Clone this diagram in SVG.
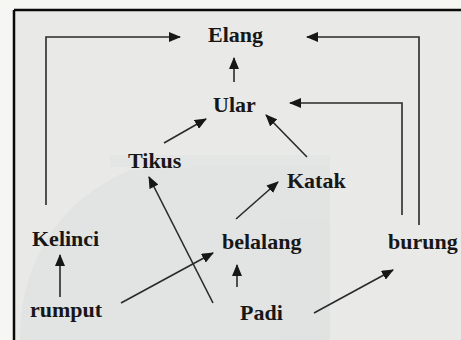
<svg xmlns="http://www.w3.org/2000/svg" width="461" height="340" viewBox="0 0 461 340">
<style>
.lbl{font-family:"Liberation Serif","Times New Roman",serif;font-weight:bold;font-size:22px;fill:#171717}
.con{fill:none;stroke:#2a2a2a;stroke-width:1.6}
</style>
<defs>
<marker id="ah" viewBox="0 0 12 10" refX="11" refY="5" markerWidth="12" markerHeight="10" markerUnits="userSpaceOnUse" orient="auto">
<path d="M0,0 L12,5 L0,10 Z" fill="#171717"/>
</marker>
</defs>
<rect x="0" y="0" width="461" height="340" fill="#f6f6f2"/>
<rect x="14" y="10" width="447" height="330" fill="#e9e9e8"/>
<g id="watermark" opacity="0.35">
<path d="M20,340 C20,260 60,200 130,170 L330,160 L330,340 Z" fill="#d6dada"/>
<rect x="280" y="220" width="50" height="120" fill="#d0d8d8"/>
<rect x="110" y="155" width="220" height="12" fill="#dbe1e1"/>
</g>
<path d="M14,10 L461,10 M14,10 L14,340" stroke="#0a0a0a" stroke-width="2.5" fill="none"/>
<g id="connectors">
<path class="con" d="M46,205 L46,37 L180,37" marker-end="url(#ah)"/>
<path class="con" d="M419,225 L419,37 L307,37" marker-end="url(#ah)"/>
<path class="con" d="M402,215 L402,103 L290,103" marker-end="url(#ah)"/>
<path class="con" d="M234,82 L234,58" marker-end="url(#ah)"/>
<path class="con" d="M164,143 L206,119" marker-end="url(#ah)"/>
<path class="con" d="M307,157 L266,115" marker-end="url(#ah)"/>
<path class="con" d="M236,219 L278,182" marker-end="url(#ah)"/>
<path class="con" d="M60,297 L60,255" marker-end="url(#ah)"/>
<path class="con" d="M121,303 L213,253" marker-end="url(#ah)"/>
<path class="con" d="M213,303 L149,177" marker-end="url(#ah)"/>
<path class="con" d="M237,287 L237,265" marker-end="url(#ah)"/>
<path class="con" d="M314,313 L393,270" marker-end="url(#ah)"/>
</g>
<g id="elang"><text class="lbl" x="208" y="42">Elang</text></g>
<g id="ular"><text class="lbl" x="213" y="112">Ular</text></g>
<g id="tikus"><text class="lbl" x="128" y="168">Tikus</text></g>
<g id="katak"><text class="lbl" x="287" y="188">Katak</text></g>
<g id="kelinci"><text class="lbl" x="32" y="246">Kelinci</text></g>
<g id="belalang"><text class="lbl" x="222" y="249">belalang</text></g>
<g id="burung"><text class="lbl" x="388" y="249">burung</text></g>
<g id="rumput"><text class="lbl" x="30" y="317">rumput</text></g>
<g id="padi"><text class="lbl" x="240" y="320">Padi</text></g>
</svg>
